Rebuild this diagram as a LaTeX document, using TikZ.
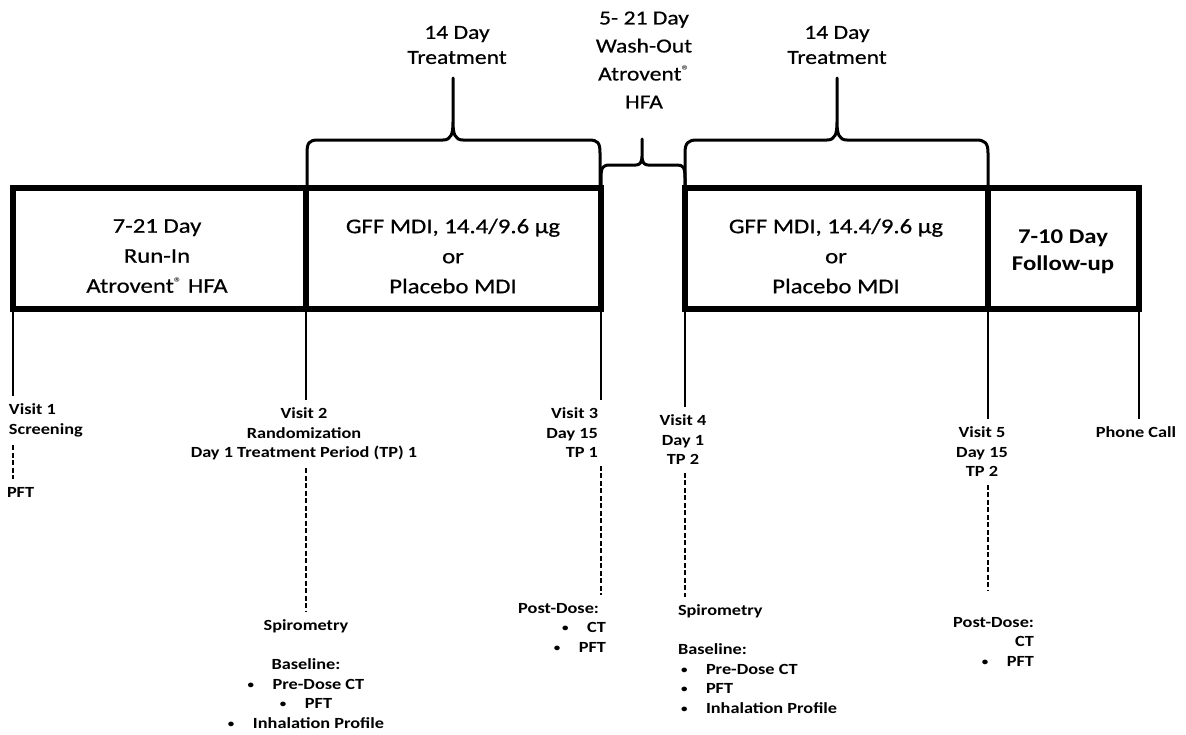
\documentclass[tikz,border=0pt]{standalone}
\usepackage{fontspec}
\setmainfont{Carlito}[FakeStretch=1.18]
\newfontfamily\semib{Carlito}[FakeStretch=1.18, FakeBold=0.5]
\newcommand{\bul}{\makebox[25pt][l]{\raisebox{0.12ex}{\fontsize{11}{11}\selectfont •}}}
\newcommand{\regm}{\raisebox{0.5ex}{\normalfont\fontsize{14}{14}\selectfont ®}}
\begin{document}
\begin{tikzpicture}[x=1pt,y=-1pt,
  box/.style={draw, line width=5.5pt, minimum height=121pt, inner sep=0pt, outer sep=0pt},
  boxtxt/.style={align=center, inner sep=0pt, font=\semib\fontsize{21}{30}\selectfont},
  boxtxtb/.style={align=center, inner sep=0pt, font=\bfseries\fontsize{21}{27}\selectfont},
  toptxt/.style={align=center, inner sep=0pt, font=\semib\fontsize{20}{25}\selectfont},
  lbl/.style={inner sep=0pt, outer xsep=0pt, outer ysep=8pt, font=\bfseries\fontsize{15.5}{19.5}\selectfont},
  brace/.style={line width=3pt, line join=round, line cap=round},
  conn/.style={line width=2pt},
  dashc/.style={line width=1.6pt, dash pattern=on 5pt off 2.5pt}
]
\useasboundingbox[fill=white] (0,0) rectangle (1186,734);

% boxes
\node[box, minimum width=293pt] (runin) at (159.5,248.5) {};
\node[box, minimum width=295pt] (tp1) at (453.5,248.5) {};
\node[box, minimum width=303pt] (tp2) at (836.5,248.5) {};
\node[box, minimum width=151pt] (fu) at (1063.5,248.5) {};

% box texts
\node[boxtxt] (runinT) at (157,256) {7-21 Day\\Run-In\\Atrovent\regm\ HFA};
\node[boxtxt] (tp1T) at (453,256) {GFF MDI, 14.4/9.6 µg\\or\\Placebo MDI};
\node[boxtxt] (tp2T) at (836,256) {GFF MDI, 14.4/9.6 µg\\or\\Placebo MDI};
\node[boxtxtb] (fuT) at (1063,252) {7-10 Day\\Follow-up};

% top texts
\node[toptxt] (t1) at (457,45) {14 Day\\Treatment};
\node[toptxt, font=\semib\fontsize{20}{28}\selectfont] (tw) at (644,60) {5- 21 Day\\Wash-Out\\Atrovent\regm\\HFA};
\node[toptxt] (t2) at (837,45) {14 Day\\Treatment};

% braces
\draw[brace] (307,188) -- (307,153) .. controls (307,143) and (309,140) .. (318,140)
  -- (443,140) .. controls (451,140) and (453,134) .. (453,122) -- (453,78)
  -- (453,122) .. controls (453,134) and (455,140) .. (463,140)
  -- (589,140) .. controls (598,140) and (600,143) .. (600,153) -- (600,188);
\draw[brace] (601,188) -- (601,178) .. controls (601,167) and (603,165) .. (610,165)
  -- (636,165) .. controls (640,165) and (642,162) .. (642,156) -- (642,139)
  -- (642,156) .. controls (642,162) and (644,165) .. (648,165)
  -- (677,165) .. controls (683,165) and (685,167) .. (685,178) -- (685,188);
\draw[brace] (685,188) -- (685,153) .. controls (685,143) and (688,140) .. (697,140)
  -- (827,140) .. controls (835,140) and (837,134) .. (837,122) -- (837,78)
  -- (837,122) .. controls (837,134) and (839,140) .. (847,140)
  -- (976,140) .. controls (985,140) and (988,143) .. (988,153) -- (988,188);

% labels
\node[lbl, align=left, anchor=north west] (v1) at (9,396) {Visit 1\\Screening};
\node[lbl, anchor=north west] (pft1) at (7,479) {PFT};
\node[lbl, align=center, anchor=north] (v2) at (304,400) {Visit 2\\Randomization\\Day 1 Treatment Period (TP) 1};
\node[lbl, align=center, anchor=north] (sp2) at (306,612) {Spirometry\\[19.5pt]Baseline:\\\bul Pre-Dose CT\\\bul PFT\\\bul Inhalation Profile};
\node[lbl, align=right, anchor=north east] (v3) at (598,400) {Visit 3\\Day 15\\TP 1};
\node[lbl, align=right, anchor=north east] (pd3) at (606,595) {Post-Dose:\hspace*{7pt}\\\bul CT\\\bul PFT};
\node[lbl, align=center, anchor=north] (v4) at (683,407) {Visit 4\\Day 1\\TP 2};
\node[lbl, align=left, anchor=north west] (sp4) at (678,597) {Spirometry\\[19.5pt]Baseline:\\\hspace*{3pt}\bul Pre-Dose CT\\\hspace*{3pt}\bul PFT\\\hspace*{3pt}\bul Inhalation Profile};
\node[lbl, align=center, anchor=north] (v5) at (982,419) {Visit 5\\Day 15\\TP 2};
\node[lbl, align=right, anchor=north east] (pd5) at (1034,609) {Post-Dose:\\CT\\\bul PFT};
\node[lbl, anchor=north] (ph) at (1136,419) {Phone Call};

% solid connectors
\draw[conn] (runin.south west) -- (runin.south west |- v1.north);
\draw[conn] (runin.south east) -- (runin.south east |- v2.north);
\draw[conn] (tp1.south east) -- (tp1.south east |- v3.north);
\draw[conn] (tp2.south west) -- (tp2.south west |- v4.north);
\draw[conn] (tp2.south east) -- (tp2.south east |- v5.north);
\draw[conn] (fu.south east) -- (fu.south east |- ph.north);

% dashed connectors
\draw[dashc] (v1.south -| runin.south west) -- (pft1.north -| runin.south west);
\draw[dashc] (v2.south -| runin.south east) -- (sp2.north -| runin.south east);
\draw[dashc] (v3.south -| tp1.south east) -- (pd3.north -| tp1.south east);
\draw[dashc] (v4.south -| tp2.south west) -- (sp4.north -| tp2.south west);
\draw[dashc, shorten >=18pt] (v5.south -| tp2.south east) -- (pd5.north -| tp2.south east);
\end{tikzpicture}
\end{document}
